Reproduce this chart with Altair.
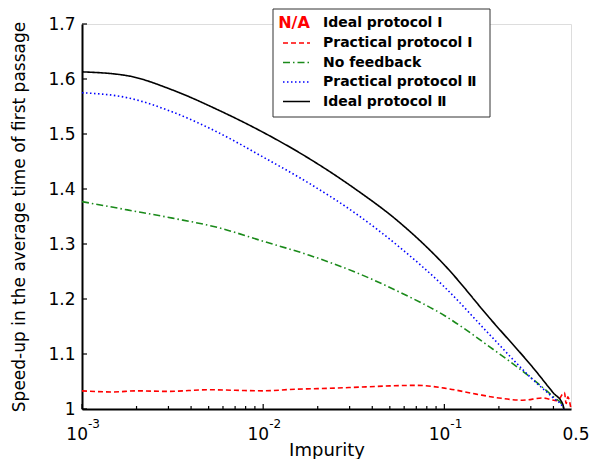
import altair as alt
import pandas as pd

# ---- data ----
series_names = ["Practical protocol Ⅰ", "No feedback", "Practical protocol Ⅱ", "Ideal protocol Ⅱ"]
series_colors = ["#ff0000", "#1a8a1a", "#0000ff", "#000000"]
series_dashes = [[5, 3], [7, 3, 1.5, 3], [1.5, 2.5], [1, 0]]

red_x = [0.001, 0.0015, 0.002, 0.003, 0.005, 0.007, 0.01, 0.015, 0.02, 0.03, 0.05, 0.07,
         0.1, 0.15, 0.2, 0.27, 0.35, 0.42, 0.46, 0.47, 0.48, 0.5]
red_y = [1.033, 1.031, 1.033, 1.032, 1.035, 1.034, 1.033, 1.036, 1.037, 1.039, 1.042, 1.043,
         1.038, 1.027, 1.020, 1.016, 1.020, 1.015, 1.030, 1.010, 1.022, 1.000]

grid_x = [0.001, 0.00178, 0.00316, 0.00562, 0.01, 0.0178, 0.0316, 0.0562, 0.1, 0.178,
          0.316, 0.4, 0.45, 0.457]
green_y = [1.377, 1.362, 1.347, 1.330, 1.305, 1.280, 1.250, 1.213, 1.170, 1.113,
           1.051, 1.022, 1.006, 1.000]
blue_y = [1.575, 1.566, 1.540, 1.503, 1.458, 1.411, 1.358, 1.295, 1.222, 1.135,
          1.050, 1.020, 1.004, 1.000]
black_y = [1.613, 1.606, 1.580, 1.544, 1.503, 1.456, 1.402, 1.340, 1.262, 1.165,
           1.071, 1.029, 1.009, 1.000]

y_ticks = [1.0, 1.1, 1.2, 1.3, 1.4, 1.5, 1.6, 1.7]
x_major = [0.001, 0.01, 0.1]
x_major_exp = ["-3", "-2", "-1"]
x_minor = [0.002, 0.003, 0.004, 0.005, 0.006, 0.007, 0.008, 0.009,
           0.02, 0.03, 0.04, 0.05, 0.06, 0.07, 0.08, 0.09,
           0.2, 0.3, 0.4]
legend_labels = ["Ideal protocol Ⅰ", "Practical protocol Ⅰ", "No feedback",
                 "Practical protocol Ⅱ", "Ideal protocol Ⅱ"]

rows = []
for name, xs, ys in zip(series_names, [red_x, grid_x, grid_x, grid_x],
                        [red_y, green_y, blue_y, black_y]):
    for a, b in zip(xs, ys):
        rows.append({"series": name, "impurity": a, "speedup": b})
df = pd.DataFrame(rows)

W, H = 489, 385
FONT = "DejaVu Sans"
xscale = alt.Scale(type="log", domain=[0.001, 0.5], nice=False)
yscale = alt.Scale(domain=[1.0, 1.7], nice=False, zero=False)

lines = alt.Chart(df).mark_line(strokeWidth=1.6, interpolate="monotone").encode(
    x=alt.X("impurity:Q", scale=xscale,
            axis=alt.Axis(labels=False, ticks=False, grid=False, title="Impurity",
                          domainColor="black", domainWidth=2, titleFont=FONT,
                          titleFontSize=18, titleFontWeight="normal", titleColor="black",
                          titlePadding=32)),
    y=alt.Y("speedup:Q", scale=yscale,
            axis=alt.Axis(values=y_ticks, ticks=False, grid=False,
                          labelExpr="datum.value == 1 ? '1' : format(datum.value, '.1f')",
                          title="Speed-up in the average time of first passage",
                          domainColor="black", domainWidth=2, labelFont=FONT,
                          labelFontSize=17, labelColor="black", labelPadding=7,
                          titleFont=FONT, titleFontSize=17, titleFontWeight="normal",
                          titleColor="black", titlePadding=19)),
    color=alt.Color("series:N", scale=alt.Scale(domain=series_names, range=series_colors),
                    legend=None),
    strokeDash=alt.StrokeDash("series:N", scale=alt.Scale(domain=series_names, range=series_dashes),
                              legend=None),
    detail="series:N",
)

# inward ticks
ytick_df = pd.DataFrame({"v": y_ticks})
yt = alt.Chart(ytick_df).mark_rule(color="black", strokeWidth=1.2).encode(
    y=alt.Y("v:Q", scale=yscale), x=alt.value(0), x2=alt.value(5))
xmaj_df = pd.DataFrame({"v": x_major, "e": x_major_exp})
xt = alt.Chart(xmaj_df).mark_rule(color="black", strokeWidth=1.2).encode(
    x=alt.X("v:Q", scale=xscale), y=alt.value(H), y2=alt.value(H - 5))
xmin_df = pd.DataFrame({"v": x_minor})
xm = alt.Chart(xmin_df).mark_rule(color="black", strokeWidth=1.2).encode(
    x=alt.X("v:Q", scale=xscale), y=alt.value(H), y2=alt.value(H - 3))

# x tick labels 10^n
base_lbl = alt.Chart(xmaj_df).mark_text(font=FONT, fontSize=17, align="right",
                                        baseline="alphabetic", dx=6, color="black").encode(
    x=alt.X("v:Q", scale=xscale), y=alt.value(H + 31), text=alt.value("10"))
exp_lbl = alt.Chart(xmaj_df).mark_text(font=FONT, fontSize=12, align="left",
                                       baseline="alphabetic", dx=6, color="black").encode(
    x=alt.X("v:Q", scale=xscale), y=alt.value(H + 19), text="e:N")
half_lbl = alt.Chart(pd.DataFrame({"v": [0.5], "t": ["0.5"]})).mark_text(
    font=FONT, fontSize=17, align="center", baseline="alphabetic", dx=5, color="black").encode(
    x=alt.X("v:Q", scale=xscale), y=alt.value(H + 31), text="t:N")

# legend (custom)
one = pd.DataFrame({"a": [0]})
LX0, LX1, LY0, LY1 = 191, 408, -15, 93
row_y = [-1, 19, 38.5, 58, 77.5]
leg_box = alt.Chart(one).mark_rect(fill="white", stroke="#333333", strokeWidth=1).encode(
    x=alt.value(LX0), x2=alt.value(LX1), y=alt.value(LY0), y2=alt.value(LY1))
leg_layers = [leg_box]
leg_layers.append(alt.Chart(one).mark_text(font=FONT, fontSize=16, fontWeight="bold",
                                           color="#ff0000", align="center",
                                           baseline="middle").encode(
    x=alt.value(212), y=alt.value(row_y[0]), text=alt.value("N/A")))
for i in range(4):
    leg_layers.append(alt.Chart(one).mark_rule(color=series_colors[i], strokeWidth=1.6,
                                               strokeDash=series_dashes[i]).encode(
        x=alt.value(201), x2=alt.value(228), y=alt.value(row_y[i + 1])))
for i, lab in enumerate(legend_labels):
    leg_layers.append(alt.Chart(one).mark_text(font=FONT, fontSize=14, fontWeight="bold",
                                               color="black", align="left",
                                               baseline="middle").encode(
        x=alt.value(241), y=alt.value(row_y[i]), text=alt.value(lab)))

chart = alt.layer(lines, yt, xt, xm, base_lbl, exp_lbl, half_lbl, *leg_layers).properties(
    width=W, height=H,
    autosize=alt.AutoSizeParams(type="none"),
    padding={"left": 74, "top": 16, "right": 30, "bottom": 50},
).configure_view(stroke=None).configure(background="white")

chart.save("out.html", embed_options={"renderer": "svg", "actions": False})
